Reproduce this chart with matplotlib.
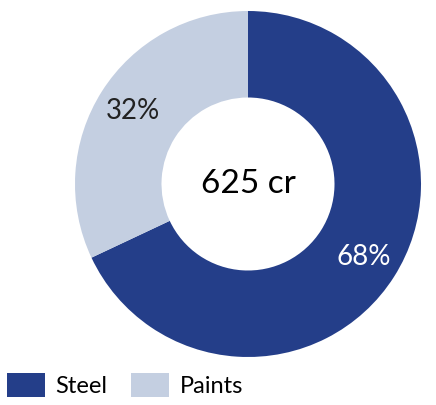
import matplotlib.pyplot as plt
from matplotlib.patches import Patch

labels = ["Steel", "Paints"]
shares = [68, 32]
colors = ["#243E89", "#C4CFE1"]
total_text = "625 cr"

plt.rcParams['font.family'] = ['Lato', 'DejaVu Sans']

fig = plt.figure(figsize=(4.36, 4.05), dpi=100)
ax = fig.add_axes([75/436, 48/405, 346/436, 346/405])

wedges, texts, autotexts = ax.pie(
    shares, colors=colors, startangle=90, counterclock=False,
    radius=1, wedgeprops=dict(width=0.5, linewidth=0),
    autopct=lambda p: f"{p:.0f}%", pctdistance=0.79,
    textprops=dict(fontsize=20))
autotexts[0].set_color("white")
autotexts[1].set_color("#222222")

ax.text(0, 0, total_text, ha="center", va="center", fontsize=24, color="black")
ax.set_xlim(-1, 1)
ax.set_ylim(-1, 1)
ax.set_aspect("equal")

handles = [Patch(facecolor=c, label=l) for c, l in zip(colors, labels)]
fig.legend(handles=handles, loc="lower left", bbox_to_anchor=(7/436, 8/405), ncol=2,
           frameon=False, fontsize=17, handlelength=1.6, handleheight=1.15,
           columnspacing=1.0, handletextpad=0.45, borderaxespad=0, borderpad=0)

fig.savefig("out.png", dpi=100)
